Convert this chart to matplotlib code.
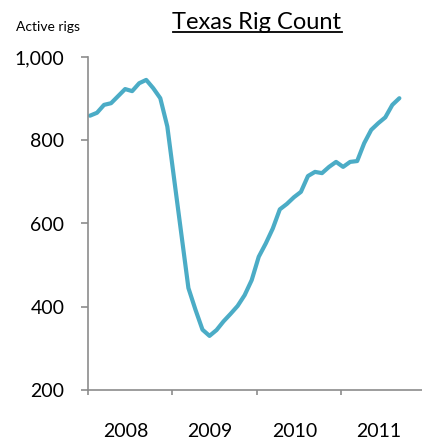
import numpy as np
import matplotlib
matplotlib.use('Agg')
import matplotlib.pyplot as plt
from matplotlib.lines import Line2D
from matplotlib.ticker import FuncFormatter

# Monthly Texas rig count, Jan 2008 - Sep 2011
rig_count = [859, 866, 885, 889, 906, 923, 918, 937, 945, 925, 901, 833,
             703, 574, 445, 393, 345, 330, 344, 365, 383, 402, 428, 464,
             520, 552, 588, 634, 647, 663, 676, 714, 724, 721, 736, 748,
             736, 748, 750, 793, 825, 841, 855, 885, 901]
years = ['2008', '2009', '2010', '2011']
y_ticks = [200, 400, 600, 800, 1000]

plt.rcParams['font.family'] = ['Lato', 'DejaVu Sans']

fig = plt.figure(figsize=(4.22, 4.40), dpi=100)
ax = fig.add_axes([88 / 422, 1 - 390 / 440, 1 - 88 / 422, (390 - 57) / 440])

months = np.arange(len(rig_count))
ax.plot(months, rig_count, color='#4BACC6', linewidth=3.0, solid_joinstyle='round',
        solid_capstyle='round')

# month index -0.28 sits on the axis, year boundaries every 12 months
x0 = -0.28
ax.set_xlim(x0, x0 + 47.5)
ax.set_ylim(200, 1000)

year_edges = [x0 + 12 * k for k in range(len(years))]
ax.set_xticks(year_edges)
ax.set_xticklabels([])
ax.set_xticks([e + 5.35 for e in year_edges], minor=True)
ax.set_xticklabels(years, minor=True)

ax.set_yticks(y_ticks)
ax.yaxis.set_major_formatter(FuncFormatter(lambda v, p: f'{int(v):,}'))

grey = '#8C8C8C'
for side in ['top', 'right']:
    ax.spines[side].set_visible(False)
for side in ['left', 'bottom']:
    ax.spines[side].set_color(grey)
    ax.spines[side].set_linewidth(1.2)

ax.tick_params(axis='y', which='major', direction='out', length=5, width=1.2,
               color=grey, labelsize=14, pad=12)
ax.tick_params(axis='x', which='major', direction='out', length=3.5, width=1.2,
               color=grey)
ax.tick_params(axis='x', which='minor', length=0, labelsize=14, pad=24)

# title with underline
title = fig.text(257 / 422, 1 - 29 / 440, 'Texas Rig Count', ha='center',
                 va='baseline', fontsize=17)
fig.text(16 / 422, 1 - 31 / 440, 'Active rigs', ha='left', va='baseline',
         fontsize=10)

fig.canvas.draw()
bb = title.get_window_extent().transformed(fig.transFigure.inverted())
uy = 1 - 32.5 / 440
fig.add_artist(Line2D([bb.x0, bb.x1], [uy, uy], color='black', linewidth=1.3,
                      transform=fig.transFigure))

fig.savefig('out.png', dpi=100)
